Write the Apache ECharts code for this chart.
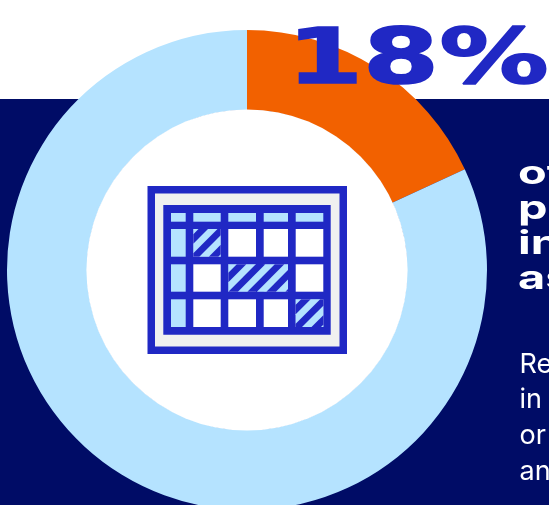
<!DOCTYPE html>
<html><head><meta charset="utf-8">
<style>html,body{margin:0;padding:0;background:#fff;overflow:hidden}#c{width:549px;height:505px}</style>
<script src="https://cdn.jsdelivr.net/npm/echarts@6/dist/echarts.min.js"></script></head>
<body><div id="c"></div>
<script>
const sliceNames = ['Share', 'Rest'];
const sliceValues = [18.1, 81.9];
const sliceColors = ['#f26100', '#b5e3ff'];
const bigNumber = '18%';
const headingLines = ['of', 'pe', 'in', 'as'];
const bodyLines = ['Re', 'in', 'or', 'an'];

const NAVY='#000c66', BLUE='#2028c4', LIGHT='#b5e3ff';
const chart = echarts.init(document.getElementById('c'), null, {renderer:'canvas'});
const els = [];
els.push({type:'rect',z:-5,shape:{x:0,y:99,width:549,height:406},style:{fill:NAVY}});
els.push({type:'circle',z:5,shape:{cx:247,cy:270,r:160.6},style:{fill:'#fff'}});
const R=(x,y,w,h,fill,z)=>els.push({type:'rect',z:z||6,shape:{x,y,width:w,height:h},style:{fill}});
R(147.5,186,199.5,168,BLUE);
R(155,193.5,184.5,153,'#f0f0f0',7);
R(163.3,205,167.4,129.7,BLUE,8);
const cols=[[171,185.7],[193.3,220.7],[228.3,256],[263.7,288],[295.7,323.3]];
const rows=[[213,221.7],[229,256.7],[264.3,291.7],[299.3,327]];
rows.forEach((r,i)=>cols.forEach((c,j)=>{
  const fill=(i===0||j===0)?LIGHT:'#fff';
  R(c[0],r[0],c[1]-c[0],r[1]-r[0],fill,9);
}));
function clip(poly,x0,y0,x1,y1){
  const edges=[[p=>p[0]>=x0,(a,b)=>{const t=(x0-a[0])/(b[0]-a[0]);return [x0,a[1]+t*(b[1]-a[1])]}],
  [p=>p[0]<=x1,(a,b)=>{const t=(x1-a[0])/(b[0]-a[0]);return [x1,a[1]+t*(b[1]-a[1])]}],
  [p=>p[1]>=y0,(a,b)=>{const t=(y0-a[1])/(b[1]-a[1]);return [a[0]+t*(b[0]-a[0]),y0]}],
  [p=>p[1]<=y1,(a,b)=>{const t=(y1-a[1])/(b[1]-a[1]);return [a[0]+t*(b[0]-a[0]),y1]}]];
  let out=poly;
  edges.forEach(([inside,cut])=>{const res=[];out.forEach((p,i)=>{const q=out[(i+1)%out.length];
    const a=inside(p),b=inside(q);if(a)res.push(p);if(a!==b)res.push(cut(p,q));});out=res;});
  return out;
}
function hatch(x0,y0,x1,y1,c0){
  R(x0,y0,x1-x0,y1-y0,BLUE,10);
  const period=19,w=9.5;
  for(let c=c0-period*6;c<x1+y1;c+=period){
    const s=[[c-y0+100,y0-100],[c+w-y0+100,y0-100],[c+w-y1-100,y1+100],[c-y1-100,y1+100]];
    const p=clip(s,x0,y0,x1,y1);
    if(p.length>2)els.push({type:'polygon',z:11,shape:{points:p},style:{fill:LIGHT}});
  }
}
hatch(193.3,229,220.7,256.7,437);
hatch(228.3,264.3,288,291.7,510.6);
hatch(295.7,299.3,323.3,327,610);
els.push({type:'text',z:20,x:287,y:24,scaleX:1.42,scaleY:1,style:{text:bigNumber,fill:BLUE,stroke:BLUE,lineWidth:1.6,font:'bold 77px "DejaVu Sans"'}});
headingLines.forEach((t,i)=>els.push({type:'text',z:20,x:518,y:[158,193,228,263][i],scaleX:1.42,style:{text:t,fill:'#fff',font:'700 33px "Inter"'}}));
bodyLines.forEach((t,i)=>els.push({type:'text',z:20,x:519.5,y:[351,386,422,458][i],style:{text:t,fill:'#fff',font:'27px "Inter"'}}));

chart.setOption({
  animation:false,
  graphic:{elements:els},
  series:[{type:'pie',z:2,center:[247,270],radius:[160,240],startAngle:90,silent:true,
    label:{show:false},labelLine:{show:false},
    data:sliceNames.map((n,i)=>({name:n,value:sliceValues[i],itemStyle:{color:sliceColors[i]}}))}]
});
</script></body></html>
